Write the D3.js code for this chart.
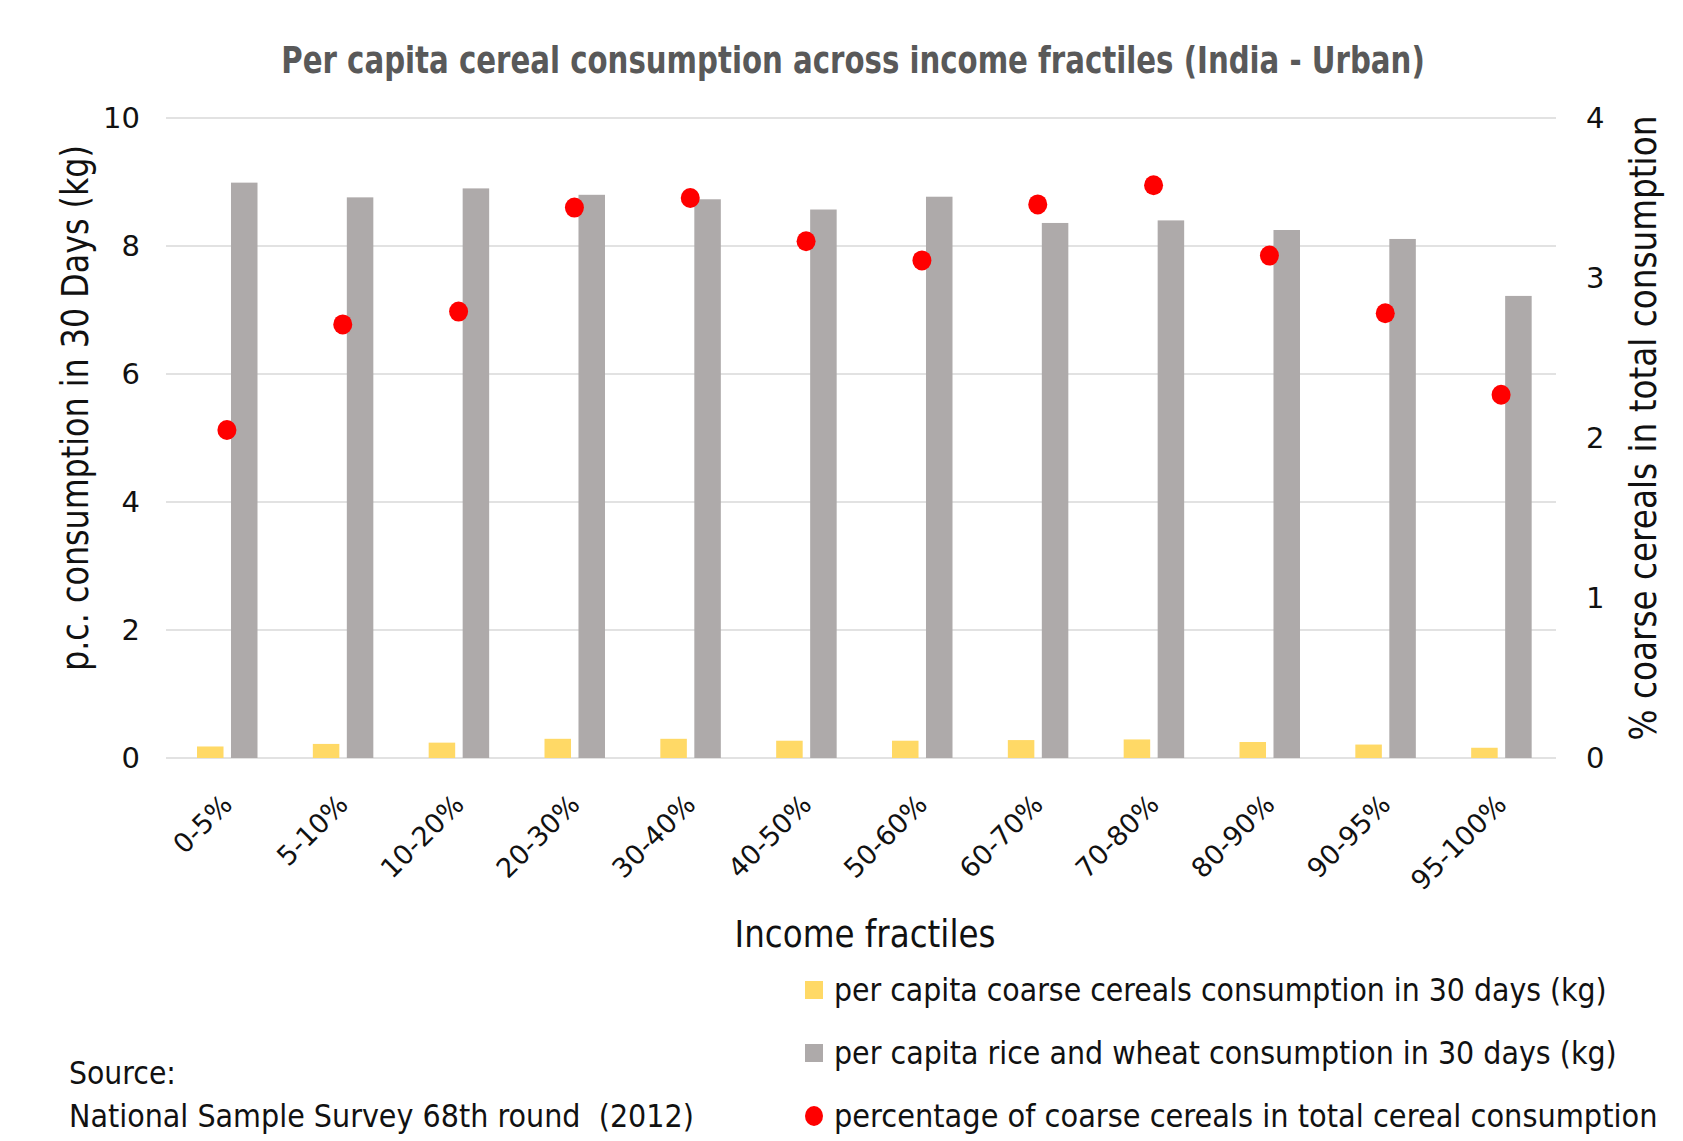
<!DOCTYPE html>
<html>
<head>
<meta charset="utf-8">
<script src="https://cdn.jsdelivr.net/npm/d3@7"></script>
<style>
  body { margin: 0; background: #fff; }
  text { font-family: "DejaVu Sans", sans-serif; }
</style>
</head>
<body>
<div id="chart"></div>
<script>
// categories and series
var fractiles = ['0-5%', '5-10%', '10-20%', '20-30%', '30-40%', '40-50%', '50-60%', '60-70%', '70-80%', '80-90%', '90-95%', '95-100%']
var coarseKg = [0.18, 0.22, 0.24, 0.30, 0.30, 0.27, 0.27, 0.28, 0.29, 0.25, 0.21, 0.16]
var riceWheatKg = [8.99, 8.76, 8.90, 8.80, 8.73, 8.57, 8.77, 8.36, 8.40, 8.25, 8.11, 7.22]
var coarsePct = [2.05, 2.71, 2.79, 3.44, 3.50, 3.23, 3.11, 3.46, 3.58, 3.14, 2.78, 2.27]
var leftTicks = [0, 2, 4, 6, 8, 10]
var rightTicks = [0, 1, 2, 3, 4]

var legendItems = [
    {label: 'per capita coarse cereals consumption in 30 days (kg)', shape: 'rect', color: '#ffd966', len: 773},
    {label: 'per capita rice and wheat consumption in 30 days (kg)', shape: 'rect', color: '#aeaaaa', len: 783},
    {label: 'percentage of coarse cereals in total cereal consumption', shape: 'circle', color: '#ff0000', len: 824}
]

var width = 1683
var height = 1141
var plot = {left: 166, right: 1556, top: 118, bottom: 758}

var svg = d3.select('#chart').append('svg')
    .attr('width', width)
    .attr('height', height)

// the reference text is narrow, so squeeze each text to the width it has there
var squeeze = function(sel, target) {
    sel.each(function(d) {
        var t = d3.select(this)
        var w = this.getComputedTextLength()
        var goal = (typeof target == 'function') ? target(d) : target
        var k = goal / w
        t.attr('transform', (t.attr('transform') || '') + ' scale(' + k + ',1)')
    })
}

var x0 = d3.scaleBand()
    .domain(fractiles)
    .range([plot.left, plot.right])
    .padding(0)

var x1 = d3.scaleBand()
    .domain(['coarse', 'rice'])
    .range([31, 91.5])
    .paddingInner(0.22)

var yLeft = d3.scaleLinear().domain([0, 10]).range([plot.bottom, plot.top])
var yRight = d3.scaleLinear().domain([0, 4]).range([plot.bottom, plot.top])

// gridlines
svg.append('g')
    .selectAll('line')
    .data(leftTicks)
    .enter().append('line')
    .attr('x1', plot.left)
    .attr('x2', plot.right)
    .attr('y1', function(d) {return yLeft(d)})
    .attr('y2', function(d) {return yLeft(d)})
    .attr('stroke', '#d9d9d9')
    .attr('stroke-width', 1.5)

// left axis labels
var leftAxis = d3.axisLeft(yLeft).tickValues(leftTicks).tickSize(0).tickPadding(26).tickFormat(d3.format('d'))
var gl = svg.append('g')
    .attr('transform', 'translate(' + plot.left + ',0)')
    .call(leftAxis)
gl.select('.domain').remove()
gl.selectAll('text')
    .attr('font-size', 29)
    .attr('font-family', 'DejaVu Sans')
    .attr('fill', '#111')

var rightAxis = d3.axisRight(yRight).tickValues(rightTicks).tickSize(0).tickPadding(30).tickFormat(d3.format('d'))
var gr = svg.append('g')
    .attr('transform', 'translate(' + plot.right + ',0)')
    .call(rightAxis)
gr.select('.domain').remove()
gr.selectAll('text')
    .attr('font-size', 29)
    .attr('font-family', 'DejaVu Sans')
    .attr('fill', '#111')

// bars
var groups = svg.append('g')
    .selectAll('g')
    .data(fractiles)
    .enter().append('g')
    .attr('transform', function(d) {return 'translate(' + x0(d) + ',0)'})

groups.append('rect')
    .attr('x', x1('coarse'))
    .attr('width', x1.bandwidth())
    .attr('y', function(d, i) {return yLeft(coarseKg[i])})
    .attr('height', function(d, i) {return yLeft(0) - yLeft(coarseKg[i])})
    .attr('fill', '#ffd966')

groups.append('rect')
    .attr('x', x1('rice'))
    .attr('width', x1.bandwidth())
    .attr('y', function(d, i) {return yLeft(riceWheatKg[i])})
    .attr('height', function(d, i) {return yLeft(0) - yLeft(riceWheatKg[i])})
    .attr('fill', '#aeaaaa')

// percentage markers, sitting just right of the band centre like the original
svg.append('g')
    .selectAll('ellipse')
    .data(fractiles)
    .enter().append('ellipse')
    .attr('cx', function(d) {return x0(d) + x0.bandwidth() / 2 + 3})
    .attr('cy', function(d, i) {return yRight(coarsePct[i])})
    .attr('rx', 9.5)
    .attr('ry', 10)
    .attr('fill', '#ff0000')

// category labels
svg.append('g')
    .selectAll('text')
    .data(fractiles)
    .enter().append('text')
    .attr('transform', function(d) {
        return 'translate(' + (x0(d) + x0.bandwidth() / 2 + 10) + ',806) rotate(-45)'
    })
    .attr('text-anchor', 'end')
    .attr('font-size', 27)
    .attr('fill', '#111')
    .text(function(d) {return d})

// title
svg.append('text')
    .attr('transform', 'translate(853,73)')
    .attr('text-anchor', 'middle')
    .attr('font-size', 37)
    .attr('font-weight', 'bold')
    .attr('fill', '#595959')
    .text('Per capita cereal consumption across income fractiles (India - Urban)')
    .call(squeeze, 1144)

// axis titles
svg.append('text')
    .attr('transform', 'translate(75,408) rotate(-90)')
    .attr('text-anchor', 'middle')
    .attr('dominant-baseline', 'central')
    .attr('font-size', 37)
    .attr('fill', '#111')
    .text('p.c. consumption in 30 Days (kg)')
    .call(squeeze, 526)

svg.append('text')
    .attr('transform', 'translate(1643,428) rotate(-90)')
    .attr('text-anchor', 'middle')
    .attr('dominant-baseline', 'central')
    .attr('font-size', 37)
    .attr('fill', '#111')
    .text('% coarse cereals in total consumption')
    .call(squeeze, 625)

svg.append('text')
    .attr('transform', 'translate(865,947)')
    .attr('text-anchor', 'middle')
    .attr('font-size', 37)
    .attr('fill', '#111')
    .text('Income fractiles')
    .call(squeeze, 261)

// legend
var legend = svg.append('g')
    .selectAll('g')
    .data(legendItems)
    .enter().append('g')
    .attr('transform', function(d, i) {return 'translate(805,' + (990 + i * 63) + ')'})

legend.filter(function(d) {return d.shape == 'rect'})
    .append('rect')
    .attr('x', 0)
    .attr('y', -9)
    .attr('width', 18)
    .attr('height', 18)
    .attr('fill', function(d) {return d.color})

legend.filter(function(d) {return d.shape == 'circle'})
    .append('ellipse')
    .attr('cx', 9)
    .attr('cy', 0)
    .attr('rx', 9)
    .attr('ry', 10)
    .attr('fill', function(d) {return d.color})

legend.append('text')
    .attr('transform', 'translate(29,0)')
    .attr('dominant-baseline', 'central')
    .attr('font-size', 32)
    .attr('fill', '#111')
    .text(function(d) {return d.label})
    .call(squeeze, function(d) {return d.len})

// source note
svg.append('text')
    .attr('transform', 'translate(69,1073)')
    .attr('dominant-baseline', 'central')
    .attr('font-size', 32)
    .attr('fill', '#111')
    .text('Source:')
    .call(squeeze, 107)

svg.append('text')
    .attr('transform', 'translate(69,1116)')
    .attr('dominant-baseline', 'central')
    .attr('font-size', 32)
    .attr('fill', '#111')
    .style('white-space', 'pre')
    .text('National Sample Survey 68th round  (2012)')
    .call(squeeze, 625)
</script>
</body>
</html>
